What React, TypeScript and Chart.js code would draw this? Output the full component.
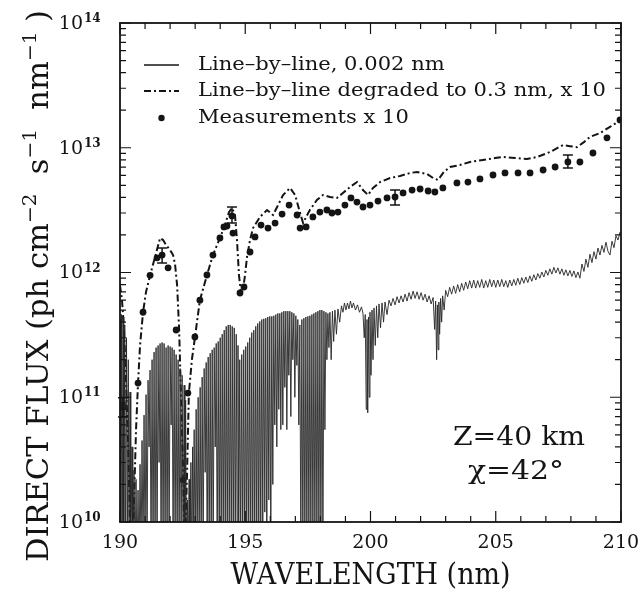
import React, { useEffect, useRef } from "react";
import { Chart, registerables } from "chart.js";

Chart.register(...registerables);

const W = 644;
const H = 594;
const FONT = '"DejaVu Serif", serif';

const X_MIN = 190;
const X_MAX = 210;
const Y_MIN = 1e10;
const Y_MAX = 1e14;
const xTickValues = [190, 195, 200, 205, 210];
const xTickLabels = ["190", "195", "200", "205", "210"];
const yTickValues = [1e10, 1e11, 1e12, 1e13, 1e14];
const yTickExponents = ["10", "11", "12", "13", "14"];

const xTitle = "WAVELENGTH (nm)";
const yTitleParts: [string, boolean][] = [
  ["DIRECT FLUX (ph cm", false],
  ["\u22122", true],
  ["  s", false],
  ["\u22121", true],
  ["  nm", false],
  ["\u22121", true],
  [" )", false],
];
const legendLabels = [
  "Line\u2013by\u2013line, 0.002 nm",
  "Line\u2013by\u2013line degraded to 0.3 nm, x 10",
  "Measurements x 10",
];
const annotationLines = ["Z=40 km", "\u03c7=42\u00b0"];

// ---- Line-by-line, 0.002 nm (solid) : [wavelength nm, flux]
const lblBandA: [number, number][] = [
  [190.0, 4.2e11], [190.03, 5e9], [190.06, 4.6e11], [190.09, 5e9], [190.12, 4.4e11], [190.15, 5e9],
  [190.19, 3.8e11], [190.22, 5e9], [190.26, 3.0e11], [190.29, 5e9], [190.33, 2.0e11], [190.36, 5e9],
  [190.4, 1.1e11], [190.43, 5e9], [190.48, 4.0e10], [190.51, 5e9], [190.56, 2.6e10], [190.6, 5e9],
  [190.64, 2.2e10], [190.68, 5e9],
];
const lblBandB: [number, number][] = [
  [190.72, 1.8e10], [190.76, 5e9], [190.8, 2.9e10], [190.84, 5e9], [190.88, 4.5e10], [190.92, 5e9],
  [190.96, 7.2e10], [191.0, 5e9], [191.04, 1.05e11], [191.08, 5e9], [191.12, 1.37e11], [191.16, 4e10],
  [191.2, 1.65e11], [191.24, 5e9], [191.28, 2.0e11], [191.32, 5e9], [191.36, 2.3e11], [191.4, 5e9],
  [191.44, 2.5e11], [191.48, 5e9], [191.52, 2.6e11], [191.56, 3e10], [191.6, 2.7e11], [191.64, 5e9],
  [191.68, 2.75e11], [191.72, 5e9], [191.76, 2.7e11], [191.8, 5e9], [191.84, 2.5e11], [191.88, 5e9],
  [191.92, 2.6e11], [191.96, 5e9], [192.0, 2.55e11], [192.04, 6e10], [192.08, 2.5e11], [192.12, 5e9],
  [192.16, 2.4e11], [192.2, 5e9], [192.24, 2.2e11], [192.28, 5e9], [192.32, 2.0e11], [192.36, 5e9],
  [192.4, 1.7e11], [192.44, 5e9], [192.48, 1.5e11], [192.52, 5e9], [192.56, 1.25e11], [192.59, 5e9],
  [192.62, 9.5e10], [192.65, 5e9],
];
const lblGap: [number, number][] = [
  [192.69, 1.5e10], [192.72, 5e9], [192.76, 2.2e10], [192.79, 5e9], [192.83, 3.0e10], [192.86, 5e9],
  [192.9, 4.0e10], [192.92, 5e9],
];
const lblBandC: [number, number][] = [
  [192.96, 5.5e10], [193.0, 5e9], [193.04, 8.0e10], [193.08, 5e9], [193.12, 1.0e11], [193.16, 5e9],
  [193.2, 1.2e11], [193.24, 5e9], [193.28, 1.45e11], [193.32, 5e9], [193.36, 1.7e11], [193.4, 2.5e10],
  [193.44, 1.9e11], [193.48, 5e9], [193.52, 2.1e11], [193.56, 5e9], [193.6, 2.25e11], [193.64, 5e9],
  [193.68, 2.4e11], [193.72, 5e9], [193.76, 2.5e11], [193.8, 4e10], [193.84, 2.7e11], [193.88, 5e9],
  [193.92, 2.8e11], [193.96, 5e9], [194.0, 3.0e11], [194.04, 5e9], [194.08, 3.2e11], [194.12, 5e9],
  [194.16, 3.45e11], [194.2, 5e9], [194.24, 3.7e11], [194.28, 5e9], [194.32, 3.8e11], [194.36, 5e9],
  [194.4, 3.8e11], [194.44, 5e9], [194.48, 3.7e11], [194.52, 5e9], [194.56, 3.6e11], [194.6, 5e9],
  [194.64, 3.2e11], [194.68, 5e9], [194.71, 2.6e11], [194.74, 5e9],
];
const lblBandD: [number, number][] = [
  [194.78, 2.0e11], [194.82, 5e9], [194.86, 2.2e11], [194.9, 5e9], [194.94, 2.4e11], [194.98, 5e9],
  [195.02, 2.55e11], [195.06, 5e9], [195.1, 2.75e11], [195.14, 5e9], [195.18, 3.0e11], [195.22, 5e9],
  [195.26, 3.3e11], [195.3, 5e9], [195.34, 3.45e11], [195.38, 5e9], [195.42, 3.7e11], [195.46, 5e9],
  [195.5, 3.9e11], [195.54, 5e9], [195.58, 4.05e11], [195.62, 5e9], [195.66, 4.2e11], [195.7, 8e9],
  [195.74, 4.25e11], [195.78, 1.2e10], [195.82, 4.3e11], [195.86, 5e9], [195.9, 4.4e11], [195.94, 1.5e10],
  [195.98, 4.45e11], [196.02, 5e9], [196.06, 4.45e11], [196.1, 2.0e10], [196.14, 4.5e11], [196.18, 6.0e10],
  [196.22, 4.6e11], [196.26, 4.0e10], [196.3, 4.7e11], [196.34, 8.0e10], [196.38, 4.7e11], [196.42, 5.5e10],
  [196.46, 4.8e11], [196.5, 6.0e10], [196.54, 4.9e11], [196.58, 1.2e11], [196.62, 4.9e11], [196.66, 5.5e10],
  [196.7, 4.9e11], [196.74, 1.5e11], [196.78, 4.9e11], [196.82, 7.0e10], [196.86, 4.8e11], [196.9, 2.0e11],
  [196.94, 4.7e11], [196.98, 1.0e11], [197.02, 4.5e11], [197.06, 1.8e11], [197.1, 4.2e11], [197.14, 6.0e10],
];
const lblBandE: [number, number][] = [
  [197.18, 3.8e11], [197.22, 5e9], [197.26, 4.2e11], [197.3, 5e9], [197.34, 4.3e11], [197.38, 5e9],
  [197.42, 4.4e11], [197.46, 5e9], [197.5, 4.45e11], [197.54, 5e9], [197.58, 4.5e11], [197.62, 5e9],
  [197.66, 4.6e11], [197.7, 5e9], [197.74, 4.7e11], [197.78, 5e9], [197.82, 4.8e11], [197.86, 5e9],
  [197.9, 4.9e11], [197.94, 5e9], [197.98, 5.0e11], [198.02, 5e9], [198.06, 5.0e11], [198.1, 5e9],
  [198.14, 4.9e11], [198.18, 5.5e10], [198.22, 4.8e11], [198.26, 2.0e11], [198.3, 4.7e11],
];
const lblMid: [number, number][] = [
  [198.34, 2.5e11], [198.38, 4.8e11], [198.43, 2.0e11], [198.48, 4.9e11], [198.53, 2.8e11], [198.58, 5.0e11],
  [198.64, 3.2e11], [198.7, 5.1e11], [198.77, 4.0e11], [198.84, 5.4e11], [198.9, 4.8e11], [198.96, 5.7e11],
  [199.02, 5.0e11], [199.08, 5.7e11], [199.14, 5.1e11], [199.2, 5.9e11], [199.26, 5.2e11], [199.32, 5.7e11],
  [199.4, 5.0e11], [199.48, 5.5e11], [199.56, 4.8e11], [199.64, 5.3e11], [199.7, 4.7e11], [199.75, 3.0e11],
  [199.79, 4.6e11], [199.83, 8.0e10], [199.86, 4.2e11], [199.89, 7.5e10], [199.92, 4.4e11], [199.95, 1.0e11],
  [199.98, 4.8e11], [200.02, 1.5e11], [200.06, 5.0e11], [200.1, 2.0e11], [200.14, 5.2e11], [200.19, 2.6e11],
  [200.24, 5.4e11], [200.29, 3.0e11], [200.34, 5.6e11], [200.4, 3.6e11], [200.46, 5.7e11], [200.52, 4.0e11],
  [200.58, 5.8e11], [200.66, 4.6e11], [200.74, 6.0e11],
];
const lblSmooth: [number, number][] = [
  [200.82, 5.4e11], [200.9, 6.2e11], [200.98, 5.5e11], [201.06, 6.4e11], [201.14, 5.7e11], [201.22, 6.5e11],
  [201.3, 5.8e11], [201.38, 6.7e11], [201.46, 5.9e11], [201.54, 6.9e11], [201.62, 6.1e11], [201.7, 7.1e11],
  [201.78, 6.2e11], [201.86, 7.0e11], [201.94, 6.1e11], [202.02, 6.9e11], [202.1, 6.0e11], [202.18, 6.7e11],
  [202.26, 5.8e11], [202.34, 6.5e11], [202.42, 5.6e11], [202.5, 6.3e11], [202.56, 3.5e11], [202.6, 5.9e11],
  [202.64, 2.0e11], [202.67, 5.5e11], [202.7, 2.4e11], [202.73, 5.8e11], [202.76, 3.2e11], [202.8, 6.2e11],
  [202.84, 4.0e11], [202.88, 6.5e11], [202.94, 5.0e11], [203.0, 7.2e11], [203.08, 6.4e11], [203.16, 7.6e11],
  [203.24, 6.7e11], [203.32, 7.8e11], [203.4, 6.8e11], [203.48, 8.0e11], [203.56, 7.0e11], [203.64, 8.2e11],
  [203.72, 7.2e11], [203.8, 8.4e11], [203.88, 7.4e11], [203.96, 8.6e11], [204.04, 7.5e11], [204.12, 8.7e11],
  [204.2, 7.5e11], [204.28, 8.6e11], [204.36, 7.6e11], [204.44, 8.8e11], [204.52, 7.5e11], [204.6, 8.6e11],
  [204.68, 7.6e11], [204.76, 8.8e11], [204.84, 7.7e11], [204.92, 8.7e11], [205.0, 7.6e11], [205.08, 8.7e11],
  [205.16, 7.7e11], [205.24, 8.8e11], [205.32, 7.7e11], [205.4, 8.6e11], [205.48, 7.6e11], [205.56, 8.7e11],
  [205.64, 7.8e11], [205.72, 8.8e11], [205.8, 7.9e11], [205.88, 9.0e11], [205.96, 8.0e11], [206.04, 9.1e11],
  [206.12, 8.2e11], [206.2, 9.2e11], [206.28, 8.3e11], [206.36, 9.4e11], [206.44, 8.5e11], [206.52, 9.6e11],
  [206.6, 8.7e11], [206.68, 9.8e11], [206.76, 9.0e11], [206.84, 1.01e12], [206.92, 9.2e11], [207.0, 1.04e12],
  [207.08, 9.5e11], [207.16, 1.07e12], [207.24, 9.7e11], [207.32, 1.1e12], [207.4, 9.9e11], [207.48, 1.09e12],
  [207.56, 9.7e11], [207.64, 1.07e12], [207.72, 9.5e11], [207.8, 1.05e12], [207.88, 9.4e11], [207.96, 1.04e12],
  [208.04, 9.3e11], [208.12, 1.03e12], [208.2, 9.1e11], [208.28, 1.01e12], [208.36, 9.0e11], [208.44, 1.17e12],
  [208.52, 1.02e12], [208.6, 1.28e12], [208.68, 1.1e12], [208.76, 1.4e12], [208.84, 1.2e12], [208.92, 1.47e12],
  [209.0, 1.28e12], [209.08, 1.57e12], [209.16, 1.38e12], [209.24, 1.65e12], [209.32, 1.45e12], [209.4, 1.75e12],
  [209.48, 1.48e12], [209.56, 1.38e12], [209.64, 1.78e12], [209.72, 1.58e12], [209.8, 1.97e12], [209.88, 1.82e12],
  [209.96, 2.1e12], [210.0, 2.0e12],
];

// ---- Line-by-line degraded to 0.3 nm, x 10 (dash-dot)
const degWave = [
  190.0, 190.08, 190.16, 190.24, 190.32, 190.4, 190.48, 190.56, 190.64, 190.72, 190.8, 190.92, 191.04, 191.2,
  191.4, 191.6, 191.72, 191.84, 192.0, 192.12, 192.2, 192.28, 192.36, 192.44, 192.52, 192.58, 192.67, 192.75,
  192.87, 192.99, 193.19, 193.47, 193.71, 193.99, 194.19, 194.35, 194.47, 194.59, 194.67, 194.75, 194.83, 194.91,
  194.99, 195.07, 195.19, 195.31, 195.59, 195.87, 196.11, 196.31, 196.51, 196.79, 196.99, 197.19, 197.31, 197.43,
  197.58, 197.86, 198.1, 198.38, 198.66, 198.9, 199.18, 199.46, 199.7, 199.9, 200.1, 200.38, 200.78, 201.18,
  201.58, 201.86, 202.26, 202.5, 202.69, 202.93, 203.17, 203.57, 203.97, 204.49, 204.97, 205.29, 205.77, 206.25,
  206.65, 207.17, 207.68, 207.96, 208.24, 208.52, 208.76, 209.16, 209.56, 210.0,
];
const degFlux = [
  7.9e11, 6.0e11, 3.5e11, 1.37e11, 4.5e10, 1.0e10, 5e9, 1.5e10, 5.5e10, 1.3e11, 2.6e11, 4.8e11, 7.0e11, 9.5e11,
  1.33e12, 1.89e12, 1.82e12, 1.66e12, 1.51e12, 1.38e12, 1.15e12, 7.9e11, 3.5e11, 9.5e10, 2.6e10, 5e9, 2.2e10, 1.08e11,
  2.0e11, 3.0e11, 6.0e11, 9.5e11, 1.38e12, 1.89e12, 2.4e12, 3.05e12, 3.29e12, 2.89e12, 1.82e12, 9.5e11, 6.85e11, 7.24e11,
  9.5e11, 1.33e12, 1.82e12, 2.27e12, 2.79e12, 3.17e12, 2.89e12, 3.47e12, 4.18e12, 4.76e12, 4.18e12, 3.0e12, 2.49e12, 2.79e12,
  3.17e12, 3.81e12, 4.18e12, 4.03e12, 3.96e12, 4.34e12, 4.84e12, 5.31e12, 4.58e12, 4.18e12, 4.76e12, 5.31e12, 5.72e12, 5.94e12,
  6.28e12, 6.39e12, 6.16e12, 5.72e12, 5.51e12, 6.39e12, 7.01e12, 7.27e12, 7.69e12, 7.98e12, 8.27e12, 8.43e12, 8.27e12, 8.12e12,
  8.43e12, 9.25e12, 1.05e13, 1.03e13, 1.01e13, 1.11e13, 1.22e13, 1.31e13, 1.47e13, 1.67e13,
];

// ---- Measurements x 10 (dots)
const measWave = [
  190.12, 190.72, 190.92, 191.2, 191.48, 191.68, 191.92, 192.24, 192.52, 192.71, 192.99, 193.19, 193.47, 193.71,
  193.99, 194.15, 194.27, 194.47, 194.51, 194.79, 194.95, 195.19, 195.39, 195.63, 195.91, 196.19, 196.47, 196.75,
  197.07, 197.19, 197.43, 197.7, 197.98, 198.26, 198.46, 198.7, 198.98, 199.22, 199.46, 199.7, 199.98, 200.3,
  200.66, 200.98, 201.3, 201.66, 201.98, 202.3, 202.57, 202.89, 203.45, 203.89, 204.37, 204.89, 205.37, 205.89,
  206.37, 206.89, 207.37, 207.88, 208.36, 208.88, 209.44, 209.96,
];
const measFlux = [
  8.4e10, 1.3e11, 4.8e11, 9.5e11, 1.31e12, 1.38e12, 1.09e12, 3.46e11, 2.17e10, 1.08e11, 3.04e11, 6.0e11, 9.55e11, 1.38e12,
  1.89e12, 2.32e12, 2.36e12, 2.84e12, 2.07e12, 6.85e11, 7.65e11, 1.46e12, 1.93e12, 2.4e12, 2.27e12, 2.49e12, 2.94e12, 3.47e12,
  2.89e12, 2.27e12, 2.32e12, 2.79e12, 3.05e12, 3.17e12, 3.0e12, 3.05e12, 3.47e12, 3.96e12, 3.67e12, 3.35e12, 3.47e12, 3.74e12,
  3.96e12, 4.03e12, 4.34e12, 4.58e12, 4.67e12, 4.5e12, 4.42e12, 4.76e12, 5.22e12, 5.31e12, 5.62e12, 6.05e12, 6.28e12, 6.28e12,
  6.28e12, 6.63e12, 7.01e12, 7.69e12, 7.69e12, 9.08e12, 1.2e13, 1.67e13,
];
const errWave = [190.12, 191.68, 194.47, 200.98, 207.88];
const errLow = [6.95e10, 1.19e12, 2.49e12, 3.47e12, 6.88e12];
const errHigh = [9.9e10, 1.57e12, 3.35e12, 4.58e12, 8.75e12];

const lblAll = [
  ...lblBandA, ...lblBandB, ...lblGap, ...lblBandC, ...lblBandD, ...lblBandE, ...lblMid, ...lblSmooth,
].map(([x, y]) => ({ x, y }));
const degPoints = degWave.map((x, i) => ({ x, y: degFlux[i] }));
const measPoints = measWave.map((x, i) => ({ x, y: measFlux[i] }));

const INK = "#141414";
const DASH = [7, 3, 2, 3];

function fitText(ctx: CanvasRenderingContext2D, text: string, x: number, y: number, size: number, width: number, align: CanvasTextAlign) {
  ctx.save();
  ctx.font = `${size}px ${FONT}`;
  const w = ctx.measureText(text).width;
  const s = width / w;
  ctx.translate(x, y);
  ctx.scale(s, 1);
  ctx.textAlign = align;
  ctx.textBaseline = "middle";
  ctx.fillText(text, 0, 0);
  ctx.restore();
}

const decorPlugin = {
  id: "decor",
  afterDatasetsDraw(chart: any) {
    const { ctx, chartArea: a, scales } = chart;
    const xs = scales.x;
    const ys = scales.y;
    ctx.save();
    ctx.strokeStyle = INK;
    ctx.fillStyle = INK;

    // error bars
    ctx.lineWidth = 1.5;
    errWave.forEach((w, i) => {
      const x = xs.getPixelForValue(w);
      const y1 = ys.getPixelForValue(errLow[i]);
      const y2 = ys.getPixelForValue(errHigh[i]);
      ctx.beginPath();
      ctx.moveTo(x, y1);
      ctx.lineTo(x, y2);
      ctx.moveTo(x - 5, y1);
      ctx.lineTo(x + 5, y1);
      ctx.moveTo(x - 5, y2);
      ctx.lineTo(x + 5, y2);
      ctx.stroke();
    });

    // frame
    ctx.lineWidth = 1.8;
    ctx.strokeRect(a.left, a.top, a.right - a.left, a.bottom - a.top);

    // x ticks (inward, both sides)
    ctx.lineWidth = 1.2;
    for (let v = X_MIN; v <= X_MAX; v++) {
      const x = xs.getPixelForValue(v);
      const len = v % 5 === 0 ? 11 : 6;
      ctx.beginPath();
      ctx.moveTo(x, a.bottom);
      ctx.lineTo(x, a.bottom - len);
      ctx.moveTo(x, a.top);
      ctx.lineTo(x, a.top + len);
      ctx.stroke();
    }
    // y ticks (inward, both sides)
    yTickValues.forEach((d, k) => {
      const y = ys.getPixelForValue(d);
      ctx.beginPath();
      ctx.moveTo(a.left, y);
      ctx.lineTo(a.left + 11, y);
      ctx.moveTo(a.right, y);
      ctx.lineTo(a.right - 11, y);
      ctx.stroke();
      if (k < yTickValues.length - 1) {
        for (let m = 2; m <= 9; m++) {
          const ym = ys.getPixelForValue(d * m);
          ctx.beginPath();
          ctx.moveTo(a.left, ym);
          ctx.lineTo(a.left + 6, ym);
          ctx.moveTo(a.right, ym);
          ctx.lineTo(a.right - 6, ym);
          ctx.stroke();
        }
      }
    });

    // x tick labels
    ctx.font = `19px ${FONT}`;
    ctx.textAlign = "center";
    ctx.textBaseline = "middle";
    xTickValues.forEach((v, i) => {
      ctx.fillText(xTickLabels[i], xs.getPixelForValue(v), a.bottom + 21);
    });

    // y tick labels 10^n
    yTickValues.forEach((v, i) => {
      const y = ys.getPixelForValue(v);
      ctx.font = `19px ${FONT}`;
      ctx.textAlign = "right";
      ctx.textBaseline = "middle";
      ctx.fillText("10", a.left - 37, y + 1);
      ctx.font = `bold 12px ${FONT}`;
      ctx.textAlign = "left";
      ctx.textBaseline = "alphabetic";
      ctx.fillText(yTickExponents[i], a.left - 36, y - 1);
    });

    // x title
    fitText(ctx, xTitle, (a.left + a.right) / 2, a.bottom + 54, 29, 280, "center");

    // y title (rotated, with superscripts)
    ctx.save();
    ctx.translate(48, 286);
    ctx.rotate(-Math.PI / 2);
    const base = 29;
    const sup = 19;
    let total = 0;
    const widths = yTitleParts.map(([t, s]) => {
      ctx.font = `${s ? sup : base}px ${FONT}`;
      const w = ctx.measureText(t).width;
      total += w;
      return w;
    });
    const sc = 552 / total;
    ctx.scale(sc, 1);
    let cx = -total / 2;
    ctx.textAlign = "left";
    ctx.textBaseline = "alphabetic";
    yTitleParts.forEach(([t, s], i) => {
      ctx.font = `${s ? sup : base}px ${FONT}`;
      ctx.fillText(t, cx, s ? -12 : 0);
      cx += widths[i];
    });
    ctx.restore();

    // legend
    const lx0 = a.left + 24;
    const lx1 = a.left + 59;
    const ly = [a.top + 42, a.top + 68, a.top + 95];
    ctx.lineWidth = 1.3;
    ctx.beginPath();
    ctx.moveTo(lx0, ly[0]);
    ctx.lineTo(lx1, ly[0]);
    ctx.stroke();
    ctx.lineWidth = 2;
    ctx.setLineDash(DASH);
    ctx.beginPath();
    ctx.moveTo(lx0, ly[1]);
    ctx.lineTo(lx1, ly[1]);
    ctx.stroke();
    ctx.setLineDash([]);
    ctx.beginPath();
    ctx.arc((lx0 + lx1) / 2, ly[2], 3.2, 0, Math.PI * 2);
    ctx.fill();
    ctx.font = `18px ${FONT}`;
    const refW = ctx.measureText(legendLabels[1]).width;
    const ls = 408 / refW;
    legendLabels.forEach((t, i) => {
      ctx.save();
      ctx.translate(a.left + 78, ly[i]);
      ctx.scale(ls, 1);
      ctx.font = `18px ${FONT}`;
      ctx.textAlign = "left";
      ctx.textBaseline = "middle";
      ctx.fillText(t, 0, 0);
      ctx.restore();
    });

    // annotation
    fitText(ctx, annotationLines[0], 519, 438, 26, 132, "center");
    fitText(ctx, annotationLines[1], 516, 472, 26, 96, "center");

    ctx.restore();
  },
};

export default function App() {
  const ref = useRef<HTMLCanvasElement>(null);
  useEffect(() => {
    const canvas = ref.current;
    if (!canvas) return;
    const chart = new Chart(canvas, {
      type: "line",
      data: {
        datasets: [
          {
            label: legendLabels[0],
            data: lblAll,
            borderColor: "#262626",
            borderWidth: 0.9,
            pointRadius: 0,
            tension: 0,
            fill: false,
          },
          {
            label: legendLabels[1],
            data: degPoints,
            borderColor: INK,
            borderWidth: 2,
            borderDash: DASH,
            pointRadius: 0,
            tension: 0,
            fill: false,
          },
          {
            label: legendLabels[2],
            data: measPoints,
            showLine: false,
            pointRadius: 3.4,
            pointBackgroundColor: INK,
            pointBorderWidth: 0,
            borderColor: INK,
          },
        ],
      },
      options: {
        responsive: false,
        animation: false,
        devicePixelRatio: 1,
        events: [],
        layout: { padding: { left: 120, right: 23, top: 23, bottom: 72 } },
        plugins: { legend: { display: false }, tooltip: { enabled: false } },
        scales: {
          x: { type: "linear", min: X_MIN, max: X_MAX, display: false },
          y: { type: "logarithmic", min: Y_MIN, max: Y_MAX, display: false },
        },
      },
      plugins: [decorPlugin],
    } as any);
    return () => chart.destroy();
  }, []);
  return (
    <div style={{ position: "absolute", left: 0, top: 0, width: W, height: H, background: "#fff" }}>
      <canvas ref={ref} width={W} height={H} style={{ width: W, height: H, display: "block" }} />
    </div>
  );
}
